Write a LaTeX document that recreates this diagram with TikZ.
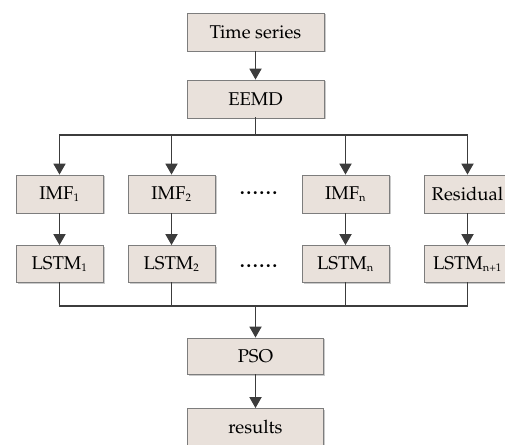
\documentclass[tikz,border=0pt]{standalone}
\usepackage[T1]{fontenc}
\usepackage{mathpazo}
\usepackage{tikz}
\usetikzlibrary{arrows.meta,positioning,shadows}
\definecolor{boxfill}{RGB}{233,225,219}
\definecolor{boxline}{RGB}{125,125,125}
\definecolor{wire}{RGB}{60,60,60}
\newcommand{\lowidx}[1]{\textsubscript{\fontsize{11}{11}\selectfont #1}}

\begin{document}
\begin{tikzpicture}[x=1pt,y=1pt,
    stage/.style={draw=boxline,fill=boxfill,line width=0.8pt,minimum height=38pt,inner sep=0pt,
      font=\fontsize{18.5}{20}\selectfont,
      drop shadow={shadow xshift=1.5pt,shadow yshift=-1.5pt,fill=black!35,opacity=0.6}},
    flow/.style={draw=wire,line width=1.8pt,-{Triangle[length=11pt,width=12pt]}},
    link/.style={draw=wire,line width=1.8pt,line cap=rect}]
  \useasboundingbox (0,0) rectangle (505,444);
  \node[stage,minimum width=137pt] (ts) at (255.5,412) {Time series};
  \node[stage,minimum width=137pt] (eemd) at (255.5,345) {EEMD};
  \coordinate (top) at (255.5,309);
  \coordinate (bot) at (255.5,138);
  \foreach \n/\x/\a/\b in {
      1/59.5/IMF\lowidx{1}/LSTM\lowidx{1},
      2/171.5/IMF\lowidx{2}/LSTM\lowidx{2},
      3/345.5/IMF\lowidx{n}/LSTM\lowidx{n},
      4/467.5/Residual/LSTM\lowidx{n+1}}
  {
    \node[stage,minimum width=87pt] (imf\n) at (\x,250) {\a};
    \node[stage,minimum width=87pt,minimum height=37pt] (lstm\n) at (\x,180) {\b};
    \draw[flow] (top -| imf\n) -- (imf\n);
    \draw[flow] (imf\n) -- (lstm\n);
    \draw[link] (lstm\n) -- (bot -| lstm\n);
  }
  % the gaps between column 2 and column n
  \node[font=\fontsize{26}{26}\selectfont,inner sep=0pt] (dotsa) at (258.5,251) {......};
  \node[font=\fontsize{26}{26}\selectfont,inner sep=0pt] (dotsb) at (258.5,178) {......};
  \node[stage,minimum width=136pt,minimum height=36pt] (pso) at (255.5,88) {PSO};
  \node[stage,minimum width=136pt,minimum height=37pt] (res) at (255.5,17) {results};
  \draw[flow] (ts) -- (eemd);
  \draw[link] (eemd) -- (top);
  \draw[link] (top -| imf1) -- (top -| imf4);
  \draw[link] (bot -| lstm1) -- (bot -| lstm4);
  \draw[flow] (bot) -- (pso);
  \draw[flow] (pso) -- (res);
\end{tikzpicture}
\end{document}
